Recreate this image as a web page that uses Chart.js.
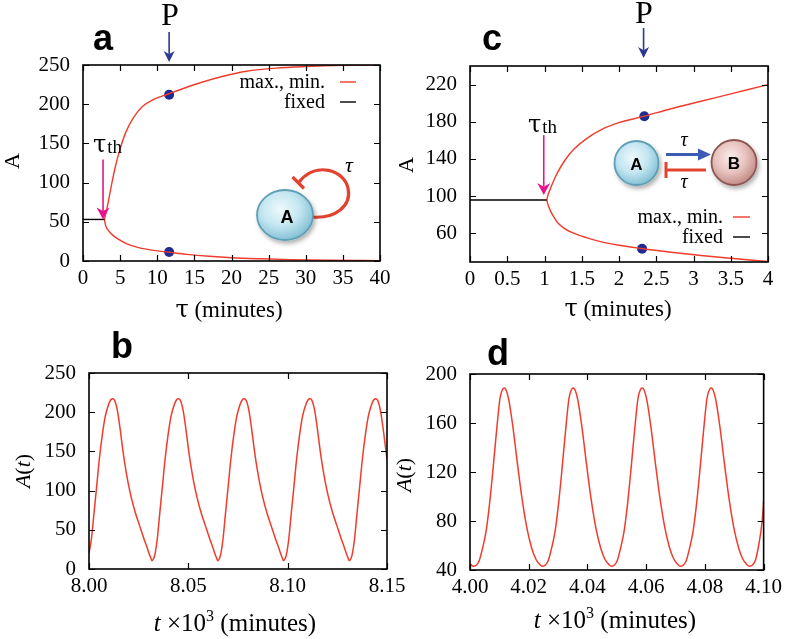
<!DOCTYPE html>
<html><head><meta charset="utf-8">
<script src="https://cdn.jsdelivr.net/npm/chart.js@4.4.1/dist/chart.umd.min.js"></script>
<style>
html,body{margin:0;padding:0;background:#fff;}
#wrap{position:relative;width:787px;height:639px;overflow:hidden;background:#fff;}
canvas{position:absolute;left:0;top:0;}
svg{position:absolute;left:0;top:0;}
</style></head><body>
<div id="wrap">
<canvas id="ca" width="787" height="639"></canvas>
<canvas id="cb" width="787" height="639"></canvas>
<canvas id="cc" width="787" height="639"></canvas>
<canvas id="cd" width="787" height="639"></canvas>
<svg id="ov" width="787" height="639" xmlns="http://www.w3.org/2000/svg">
<defs>
<radialGradient id="gA" cx="42%" cy="38%" r="62%">
<stop offset="0" stop-color="#eef9fc"/><stop offset="0.55" stop-color="#c4e6f1"/><stop offset="1" stop-color="#86c2d6"/>
</radialGradient>
<radialGradient id="gB" cx="42%" cy="38%" r="62%">
<stop offset="0" stop-color="#fbecea"/><stop offset="0.55" stop-color="#e8c3bf"/><stop offset="1" stop-color="#c48e89"/>
</radialGradient>
<filter id="sh" x="-30%" y="-30%" width="170%" height="170%"><feDropShadow dx="2" dy="3" stdDeviation="2" flood-color="#000" flood-opacity="0.3"/></filter>
</defs>
<g font-family="'Liberation Sans', Arial, sans-serif" font-weight="bold" font-size="36" fill="#000">
<text x="93" y="50">a</text>
<text x="111" y="358">b</text>
<text x="482" y="50">c</text>
<text x="487" y="365">d</text>
</g>
<g font-family="'Liberation Serif', 'Times New Roman', serif" fill="#000">
<text x="170" y="25" font-size="32" text-anchor="middle">P</text>
<text x="644" y="23" font-size="32" text-anchor="middle">P</text>
<text x="93" y="152"><tspan font-family="'DejaVu Serif', serif" font-size="24">τ</tspan><tspan font-size="19" dx="1" dy="1">th</tspan></text>
<text x="528" y="132"><tspan font-family="'DejaVu Serif', serif" font-size="24">τ</tspan><tspan font-size="19" dx="1" dy="1">th</tspan></text>
<text transform="translate(18.5,161) rotate(-90)" text-anchor="middle" font-size="22">A</text>
<text transform="translate(412.5,165) rotate(-90)" text-anchor="middle" font-size="22">A</text>
<text transform="translate(30,471) rotate(-90)" text-anchor="middle" font-size="22"><tspan font-style="italic">A</tspan>(<tspan font-style="italic">t</tspan>)</text>
<text transform="translate(411,475) rotate(-90)" text-anchor="middle" font-size="22"><tspan font-style="italic">A</tspan>(<tspan font-style="italic">t</tspan>)</text>
<text x="229" y="317" text-anchor="middle" font-size="23"><tspan font-family="'DejaVu Serif', serif" font-size="24">τ</tspan> (minutes)</text>
<text x="618" y="316" text-anchor="middle" font-size="23"><tspan font-family="'DejaVu Serif', serif" font-size="24">τ</tspan> (minutes)</text>
<text x="235" y="631" text-anchor="middle" font-size="25"><tspan font-style="italic">t</tspan> ×10<tspan font-size="16" dy="-10">3</tspan><tspan dy="10"> (minutes)</tspan></text>
<text x="615" y="628" text-anchor="middle" font-size="25"><tspan font-style="italic">t</tspan> ×10<tspan font-size="16" dy="-10">3</tspan><tspan dy="10"> (minutes)</tspan></text>
<text x="325" y="88" text-anchor="end" font-size="20">max., min.</text>
<text x="325" y="108" text-anchor="end" font-size="20">fixed</text>
<text x="723" y="223" text-anchor="end" font-size="20">max., min.</text>
<text x="723" y="243" text-anchor="end" font-size="20">fixed</text>
</g>
<line x1="340" y1="82" x2="356" y2="82" stroke="#f03c2c" stroke-width="1.4"/>
<line x1="340" y1="102" x2="356" y2="102" stroke="#000" stroke-width="1.4"/>
<line x1="733" y1="217" x2="750" y2="217" stroke="#f03c2c" stroke-width="1.4"/>
<line x1="733" y1="237" x2="750" y2="237" stroke="#000" stroke-width="1.4"/>
<!-- inset a -->
<path d="M312 217 C 335 219, 352 206, 348 188 C 344 170, 316 161, 299 182" fill="none" stroke="#e2432e" stroke-width="3.2"/>
<line x1="292.5" y1="177" x2="304" y2="188.5" stroke="#e2432e" stroke-width="3.2"/>
<ellipse cx="285" cy="215" rx="28" ry="25" fill="url(#gA)" stroke="#5f9fb5" stroke-width="1.8" filter="url(#sh)"/>
<text x="287" y="223" text-anchor="middle" font-family="'Liberation Sans', Arial, sans-serif" font-weight="bold" font-size="18">A</text>
<text x="349" y="172" text-anchor="middle" font-family="'Liberation Serif', serif" font-style="italic" font-size="22">τ</text>
<!-- inset c -->
<circle cx="636.5" cy="163" r="22" fill="url(#gA)" stroke="#5f9fb5" stroke-width="1.8" filter="url(#sh)"/>
<text x="636.5" y="169.5" text-anchor="middle" font-family="'Liberation Sans', Arial, sans-serif" font-weight="bold" font-size="17">A</text>
<circle cx="734" cy="162.5" r="22.5" fill="url(#gB)" stroke="#8d5754" stroke-width="1.8" filter="url(#sh)"/>
<text x="734" y="169" text-anchor="middle" font-family="'Liberation Sans', Arial, sans-serif" font-weight="bold" font-size="17">B</text>
<line x1="666" y1="154.5" x2="700" y2="154.5" stroke="#3b5bb5" stroke-width="3"/>
<polygon points="711,154.5 698,148.5 698,160.5" fill="#3b5bb5"/>
<line x1="706" y1="170" x2="666" y2="170" stroke="#e2432e" stroke-width="3"/>
<line x1="666" y1="162" x2="666" y2="178" stroke="#e2432e" stroke-width="3"/>
<text x="684" y="146" text-anchor="middle" font-family="'Liberation Serif', serif" font-style="italic" font-size="20">τ</text>
<text x="684" y="188" text-anchor="middle" font-family="'Liberation Serif', serif" font-style="italic" font-size="20">τ</text>
</svg>
</div>
<script>
// ---------- Panel a : single-node loop ----------
const tauUpA = [2.9, 3.1, 3.4, 3.8, 4.3, 5.0, 5.8, 6.8, 8.0, 9.5, 11.5, 13.5, 16, 19, 22, 26, 30, 35, 40];
const aUpA   = [53, 62, 75, 95, 118, 143, 165, 183, 197, 206, 213, 220, 228, 236, 242, 246, 248, 249.5, 250];
const tauLoA = [2.9, 3.0, 3.2, 3.5, 4.0, 4.8, 6, 7.5, 9.5, 11.5, 14, 17, 20, 24, 28, 33, 40];
const aLoA   = [53, 47, 42, 38, 33, 27.5, 21.5, 17, 13.5, 11.3, 8.5, 6, 4.2, 2.8, 1.8, 1, 0.5];
const tauFixA = [0, 2.9];
const aFixA   = [53, 53];
const tauDotA = [11.6, 11.6];
const aDotA   = [212, 11.5];
const xTicksA = [0, 5, 10, 15, 20, 25, 30, 35, 40];
const xLabelsA = ['0', '5', '10', '15', '20', '25', '30', '35', '40'];
const yTicksA = [0, 50, 100, 150, 200, 250];
const yLabelsA = ['0', '50', '100', '150', '200', '250'];
const markA = { pTau: 11.6, thTau: 2.7, thA: 53 };

// ---------- Panel c : two-node loop ----------
const tauUpC = [1.03, 1.05, 1.08, 1.12, 1.18, 1.27, 1.39, 1.55, 1.75, 2.0, 2.34, 2.7, 3.1, 3.5, 4.0];
const aUpC   = [95.7, 102, 108, 116, 126, 138, 150, 161, 171, 179, 186, 194, 202, 210, 220];
const tauLoC = [1.03, 1.05, 1.08, 1.12, 1.18, 1.27, 1.39, 1.55, 1.75, 2.0, 2.3, 2.7, 3.1, 3.5, 4.0];
const aLoC   = [95.7, 90, 84, 78, 71, 65, 60, 55.5, 51, 47, 43.5, 39.5, 36, 33, 29.5];
const tauFixC = [0, 1.03];
const aFixC   = [95.7, 95.7];
const tauDotC = [2.34, 2.31];
const aDotC   = [186, 43.3];
const xTicksC = [0, 0.5, 1, 1.5, 2, 2.5, 3, 3.5, 4];
const xLabelsC = ['0', '0.5', '1', '1.5', '2', '2.5', '3', '3.5', '4'];
const yTicksC = [60, 100, 140, 180, 220];
const yLabelsC = ['60', '100', '140', '180', '220'];
const markC = { pTau: 2.33, thTau: 0.99, thA: 101 };

// ---------- Panel b : time series (x 10^3 minutes) ----------
const tB = [8.0000, 8.0012, 8.0024, 8.0038, 8.0052, 8.0067, 8.0082, 8.0096, 8.0109, 8.0121,
  8.0129, 8.0138, 8.0147, 8.0157, 8.0168, 8.0181, 8.0196, 8.0213, 8.0233, 8.0255, 8.0276, 8.0293, 8.0305, 8.0312,
  8.0317, 8.0325, 8.0333, 8.0343, 8.0355, 8.0369, 8.0383, 8.0398, 8.0413, 8.0427, 8.0440, 8.0452,
  8.0460, 8.0469, 8.0478, 8.0488, 8.0499, 8.0512, 8.0527, 8.0544, 8.0564, 8.0586, 8.0607, 8.0624, 8.0636, 8.0643,
  8.0648, 8.0656, 8.0664, 8.0674, 8.0686, 8.0700, 8.0714, 8.0729, 8.0744, 8.0758, 8.0771, 8.0783,
  8.0791, 8.0800, 8.0809, 8.0819, 8.0830, 8.0843, 8.0858, 8.0875, 8.0895, 8.0917, 8.0938, 8.0955, 8.0967, 8.0974,
  8.0979, 8.0987, 8.0995, 8.1005, 8.1017, 8.1031, 8.1045, 8.1060, 8.1075, 8.1089, 8.1102, 8.1114,
  8.1122, 8.1131, 8.1140, 8.1150, 8.1161, 8.1174, 8.1189, 8.1206, 8.1226, 8.1248, 8.1269, 8.1286, 8.1298, 8.1305,
  8.1310, 8.1318, 8.1326, 8.1336, 8.1348, 8.1362, 8.1376, 8.1391, 8.1406, 8.1420, 8.1433, 8.1445,
  8.1453, 8.1462, 8.1471, 8.1481, 8.1492, 8.1500];
const aB = [20, 38, 68, 104, 140, 171, 195, 208, 215.5, 217,
  215, 208, 196, 178, 156, 133, 111, 91, 72, 55, 39, 27, 18, 13.5,
  10.5, 13, 20, 37, 68, 104, 140, 171, 195, 208, 215.5, 217,
  215, 208, 196, 178, 156, 133, 111, 91, 72, 55, 39, 27, 18, 13.5,
  10.5, 13, 20, 37, 68, 104, 140, 171, 195, 208, 215.5, 217,
  215, 208, 196, 178, 156, 133, 111, 91, 72, 55, 39, 27, 18, 13.5,
  10.5, 13, 20, 37, 68, 104, 140, 171, 195, 208, 215.5, 217,
  215, 208, 196, 178, 156, 133, 111, 91, 72, 55, 39, 27, 18, 13.5,
  10.5, 13, 20, 37, 68, 104, 140, 171, 195, 208, 215.5, 217,
  215, 208, 196, 178, 156, 140];
const xTicksB = [8.00, 8.05, 8.10, 8.15];
const xLabelsB = ['8.00', '8.05', '8.10', '8.15'];
const yTicksB = [0, 50, 100, 150, 200, 250];
const yLabelsB = ['0', '50', '100', '150', '200', '250'];

// ---------- Panel d : time series (x 10^3 minutes) ----------
const tD = [4.0000, 4.0012, 4.0022, 4.0032, 4.0043, 4.0055, 4.0067, 4.0079, 4.0091, 4.0102, 4.0110, 4.0116,
  4.0123, 4.0132, 4.0146, 4.0162, 4.0178, 4.0194, 4.0210, 4.0224, 4.0236,
  4.0247, 4.0257, 4.0267, 4.0278, 4.0290, 4.0302, 4.0314, 4.0326, 4.0337, 4.0345, 4.0351,
  4.0358, 4.0367, 4.0381, 4.0397, 4.0413, 4.0429, 4.0445, 4.0459, 4.0471,
  4.0482, 4.0492, 4.0502, 4.0513, 4.0525, 4.0537, 4.0549, 4.0561, 4.0572, 4.0580, 4.0586,
  4.0593, 4.0602, 4.0616, 4.0632, 4.0648, 4.0664, 4.0680, 4.0694, 4.0706,
  4.0717, 4.0727, 4.0737, 4.0748, 4.0760, 4.0772, 4.0784, 4.0796, 4.0807, 4.0815, 4.0821,
  4.0828, 4.0837, 4.0851, 4.0867, 4.0883, 4.0899, 4.0915, 4.0929, 4.0941,
  4.0952, 4.0962, 4.0972, 4.0983, 4.0995, 4.1000];
const aD = [45, 43, 44, 48, 58, 72, 95, 124, 155, 180, 187, 188.5,
  187, 179, 157, 126, 97, 74, 58, 49, 45,
  43, 44, 48, 58, 72, 95, 124, 155, 180, 187, 188.5,
  187, 179, 157, 126, 97, 74, 58, 49, 45,
  43, 44, 48, 58, 72, 95, 124, 155, 180, 187, 188.5,
  187, 179, 157, 126, 97, 74, 58, 49, 45,
  43, 44, 48, 58, 72, 95, 124, 155, 180, 187, 188.5,
  187, 179, 157, 126, 97, 74, 58, 49, 45,
  43, 44, 48, 60, 80, 96];
const xTicksD = [4.00, 4.02, 4.04, 4.06, 4.08, 4.10];
const xLabelsD = ['4.00', '4.02', '4.04', '4.06', '4.08', '4.10'];
const yTicksD = [40, 80, 120, 160, 200];
const yLabelsD = ['40', '80', '120', '160', '200'];

// ---------- helpers ----------
const W = 787, H = 639, YW = 60, XH = 40;
const RED = '#f03c2c', SERIF = "'Liberation Serif', 'Times New Roman', serif";
const pts = (xs, ys) => xs.map((x, i) => ({ x: x, y: ys[i] }));
const line = (xs, ys, color, w) => ({ data: pts(xs, ys), borderColor: color, borderWidth: w || 1.4, pointRadius: 0, fill: false, cubicInterpolationMode: 'monotone' });
const dots = (xs, ys) => ({ data: pts(xs, ys), showLine: false, pointRadius: 5, pointBackgroundColor: '#1f2b8f', pointBorderColor: '#1f2b8f', pointBorderWidth: 0 });

function arrowDown(ctx, x, y0, y1, color, lw, hw, hl) {
  ctx.save();
  ctx.strokeStyle = color; ctx.fillStyle = color; ctx.lineWidth = lw;
  ctx.beginPath(); ctx.moveTo(x, y0); ctx.lineTo(x, y1 - hl * 0.7); ctx.stroke();
  ctx.beginPath(); ctx.moveTo(x, y1); ctx.lineTo(x - hw / 2, y1 - hl); ctx.lineTo(x, y1 - hl * 0.7); ctx.lineTo(x + hw / 2, y1 - hl); ctx.closePath(); ctx.fill();
  ctx.restore();
}

function makePanel(id, box, xr, yr, xT, xL, yT, yL, datasets, annot) {
  const frame = {
    id: 'frame' + id,
    afterDraw(chart) {
      const { ctx, chartArea: a, scales: { x, y } } = chart;
      ctx.save();
      ctx.strokeStyle = '#000'; ctx.lineWidth = 1.2;
      const L = 6;
      ctx.beginPath();
      x.ticks.forEach(t => { const p = Math.round(x.getPixelForValue(t.value)) + 0.5; ctx.moveTo(p, a.bottom); ctx.lineTo(p, a.bottom - L); ctx.moveTo(p, a.top); ctx.lineTo(p, a.top + L); });
      y.ticks.forEach(t => { const p = Math.round(y.getPixelForValue(t.value)) + 0.5; ctx.moveTo(a.left, p); ctx.lineTo(a.left + L, p); ctx.moveTo(a.right, p); ctx.lineTo(a.right - L, p); });
      ctx.stroke();
      ctx.lineWidth = 1.6;
      ctx.strokeRect(a.left, a.top, a.right - a.left, a.bottom - a.top);
      ctx.restore();
      if (annot) annot(chart);
    }
  };
  return new Chart(document.getElementById(id), {
    type: 'line',
    data: { datasets: datasets },
    options: {
      responsive: false, animation: false, events: [],
      layout: { padding: { left: box.l - YW, right: W - box.r, top: box.t, bottom: H - box.b - XH } },
      plugins: { legend: { display: false }, tooltip: { enabled: false } },
      scales: {
        x: {
          type: 'linear', min: xr[0], max: xr[1],
          afterBuildTicks: s => { s.ticks = xT.map(v => ({ value: v })); },
          afterFit: s => { s.height = XH; },
          grid: { display: false, drawTicks: false }, border: { display: false },
          ticks: { padding: 5, color: '#000', autoSkip: false, maxRotation: 0, font: { family: SERIF, size: 21 }, callback: (v, i) => xL[i] }
        },
        y: {
          type: 'linear', min: yr[0], max: yr[1],
          afterBuildTicks: s => { s.ticks = yT.map(v => ({ value: v })); },
          afterFit: s => { s.width = YW; },
          grid: { display: false, drawTicks: false }, border: { display: false },
          ticks: { padding: 13, color: '#000', autoSkip: false, font: { family: SERIF, size: 21 }, callback: (v, i) => yL[i] }
        }
      }
    },
    plugins: [frame]
  });
}

makePanel('ca', { l: 83, r: 380, t: 65, b: 261 }, [0, 40], [0, 250], xTicksA, xLabelsA, yTicksA, yLabelsA,
  [line(tauFixA, aFixA, '#000'), line(tauUpA, aUpA, RED), line(tauLoA, aLoA, RED), dots(tauDotA, aDotA)],
  chart => {
    const { ctx, scales: { x, y } } = chart;
    arrowDown(ctx, x.getPixelForValue(markA.pTau), 32, 62, '#2b3990', 1.6, 11, 11);
    const ty = y.getPixelForValue(markA.thA);
    arrowDown(ctx, x.getPixelForValue(markA.thTau), ty - 60, ty, '#e6168a', 1.6, 13, 12);
  });

makePanel('cc', { l: 470, r: 768, t: 66, b: 262 }, [0, 4], [29, 240], xTicksC, xLabelsC, yTicksC, yLabelsC,
  [line(tauFixC, aFixC, '#000'), line(tauUpC, aUpC, RED), line(tauLoC, aLoC, RED), dots(tauDotC, aDotC)],
  chart => {
    const { ctx, scales: { x, y } } = chart;
    arrowDown(ctx, x.getPixelForValue(markC.pTau), 28, 58, '#2b3990', 1.6, 11, 11);
    const ty = y.getPixelForValue(markC.thA);
    arrowDown(ctx, x.getPixelForValue(markC.thTau), ty - 60, ty, '#e6168a', 1.6, 13, 12);
  });

makePanel('cb', { l: 89, r: 387, t: 373, b: 569 }, [8.0, 8.15], [0, 250], xTicksB, xLabelsB, yTicksB, yLabelsB,
  [line(tB, aB, RED, 1.5)]);

makePanel('cd', { l: 470, r: 767, t: 374, b: 570 }, [4.0, 4.1], [40, 200], xTicksD, xLabelsD, yTicksD, yLabelsD,
  [line(tD, aD, RED, 1.5)]);
</script>
</body></html>
